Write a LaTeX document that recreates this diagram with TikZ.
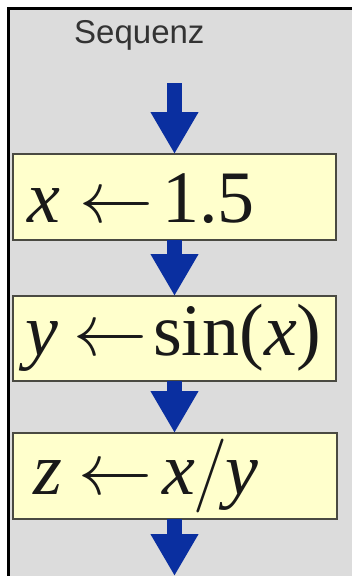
\RequirePackage{fix-cm}
\documentclass[tikz,border=0pt]{standalone}
\usepackage{fontspec}
\setmainfont{Liberation Serif}
\newfontfamily\labelfont{Liberation Sans}
\usetikzlibrary{arrows.meta}
\definecolor{bggray}{HTML}{DCDCDC}
\definecolor{boxfill}{HTML}{FFFFCC}
\definecolor{boxline}{HTML}{4A4A42}
\definecolor{arrowblue}{HTML}{0A2FA0}
\tikzset{
  stepbox/.style={draw=boxline, fill=boxfill, line width=2pt, outer sep=0pt, inner sep=0pt, minimum width=323pt},
  fatarrow/.style={draw=arrowblue, line width=15pt, -{Triangle[width=45pt,length=42pt]}},
  expr/.style={anchor=base west, inner sep=0pt, text=black!90, font=\fontsize{74}{80}\selectfont},
}
\begin{document}
\begin{tikzpicture}[x=1pt,y=-1pt]
\useasboundingbox (0,0) rectangle (352,576);
\fill[white] (0,0) rectangle (352,576);
\fill[bggray] (8,8) rectangle (352,576);
\draw[line width=3pt, black] (352,8) -- (8,8) -- (8,576);
\node[anchor=base west, inner sep=0pt, font=\labelfont\fontsize{33}{36}\selectfont, text=black!80] (title) at (74,43) {Sequenz};
\node[stepbox, minimum height=86pt] (b1) at (174.5,197) {};
\node[stepbox, minimum height=85pt] (b2) at (174.5,338.5) {};
\node[stepbox, minimum height=86pt, minimum width=324pt] (b3) at (175,476) {};
\node[expr] (t1) at (27,222) {\textit{x}\hspace{19pt}$\leftarrow$\hspace{9pt}1.5};
\node[expr] (t2) at (25,355) {\textit{y}\hspace{15pt}$\leftarrow$\hspace{6pt}sin(\textit{x})};
\node[expr] (t3) at (33,494) {\textit{z}\hspace{17pt}$\leftarrow$\hspace{10pt}\textit{x}\hspace{-2pt}$/$\hspace{-2pt}\textit{y}};
\coordinate (start) at (174.5,83);
\coordinate (finish) at (174.5,576);
\draw[fatarrow] (start) -- (b1.north);
\draw[fatarrow] (b1.south) -- (b2.north);
\draw[fatarrow] (b2.south) -- (b3.north -| b2.south);
\draw[fatarrow] (b3.south -| b2.south) -- (finish);
\end{tikzpicture}
\end{document}
